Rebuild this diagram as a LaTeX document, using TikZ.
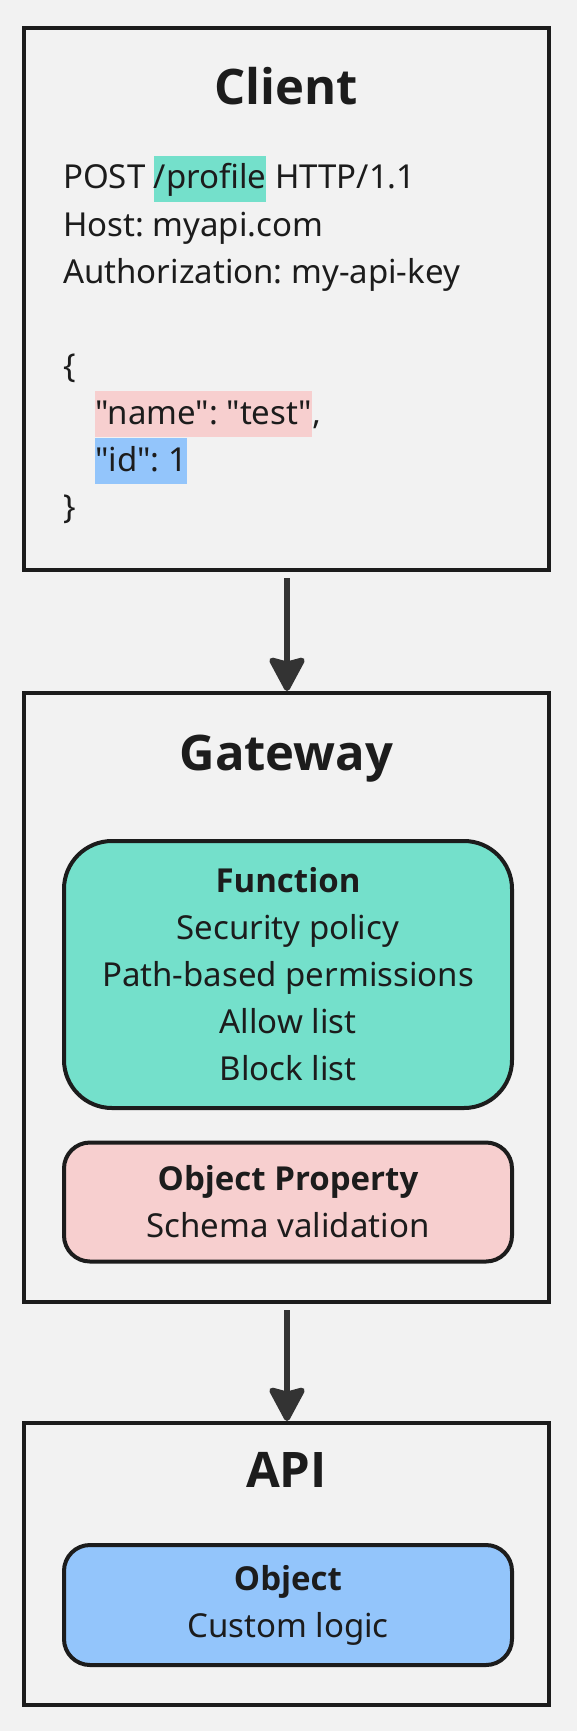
\documentclass[tikz,border=0pt]{standalone}
\usepackage{fontspec}
\setmainfont{Noto Sans}[Ligatures=TeXOff]
\newfontfamily\heavyfam{Open Sans}[Ligatures=TeXOff]
\usetikzlibrary{arrows.meta}
\definecolor{bgc}{HTML}{F2F2F2}
\definecolor{inkc}{HTML}{1C1C1C}
\definecolor{arrc}{HTML}{333333}
\definecolor{tealc}{HTML}{74E0CB}
\definecolor{pinkc}{HTML}{F7CFCF}
\definecolor{bluec}{HTML}{93C5FB}
\newcommand{\hlbox}[2]{{\setlength{\fboxsep}{0pt}\colorbox{#1}{\rule[-13pt]{0pt}{46pt}#2}}}
\newcommand{\hd}[1]{{\heavyfam\bfseries #1}}
\frenchspacing
\tikzset{
  frame/.style={draw=inkc, line width=4pt, fill=bgc, inner sep=0pt},
  card/.style={draw=inkc, line width=4pt, inner sep=0pt, align=center, text=inkc,
    font=\fontsize{33}{47}\selectfont},
  titletext/.style={inner sep=0pt, text=inkc, font=\fontsize{49}{56}\selectfont\heavyfam\bfseries},
  bodytext/.style={inner sep=0pt, text=inkc, font=\fontsize{33}{47}\selectfont},
  arr/.style={draw=arrc, line width=6pt, shorten <=6pt,
    -{Stealth[width=40pt, length=38pt, inset=5pt, round]}}
}
\begin{document}
\begin{tikzpicture}[x=1pt, y=-1pt]
\fill[bgc] (0,0) rectangle (577,1731);
\useasboundingbox (0,0) rectangle (577,1731);

% Client
\node[frame, minimum width=525pt, minimum height=542pt] (client) at (286.5,299) {};
\node[titletext, anchor=base] (clientT) at (286.5,105) {Client};
\node[bodytext, anchor=base west] (c1) at (63,189) {POST \hlbox{tealc}{/profile} HTTP/1.1};
\node[bodytext, anchor=base west] (c2) at (63,236) {Host: myapi.com};
\node[bodytext, anchor=base west] (c3) at (63,283) {Authorization: my-api-key};
\node[bodytext, anchor=base west] (c4) at (63,377) {\{};
\node[bodytext, anchor=base west] (c5) at (95,424) {\hlbox{pinkc}{"name": "test"},};
\node[bodytext, anchor=base west] (c6) at (95,471) {\hlbox{bluec}{"id": 1}};
\node[bodytext, anchor=base west] (c7) at (63,518) {\}};

% Gateway
\node[frame, minimum width=525pt, minimum height=609pt] (gateway) at (286.5,997.5) {};
\node[titletext, anchor=base] (gatewayT) at (286.5,770) {Gateway};
\node[card, fill=tealc, rounded corners=48pt, minimum width=448pt, minimum height=267pt]
  (func) at (288,974.5) {\hd{Function}\\Security policy\\Path-based permissions\\Allow list\\Block list};
\node[card, fill=pinkc, rounded corners=26pt, minimum width=448pt, minimum height=119pt]
  (prop) at (288,1202) {\hd{Object Property}\\Schema validation};

% API
\node[frame, minimum width=525pt, minimum height=282pt] (api) at (286.5,1564) {};
\node[titletext, anchor=base] (apiT) at (286.5,1487) {API};
\node[card, fill=bluec, rounded corners=26pt, minimum width=448pt, minimum height=120pt]
  (obj) at (288,1605) {\hd{Object}\\Custom logic};

% Connectors
\draw[arr] (client.south -| 287,0) -- (gateway.north -| 287,0);
\draw[arr] (gateway.south -| 287,0) -- (api.north -| 287,0);
\end{tikzpicture}
\end{document}
